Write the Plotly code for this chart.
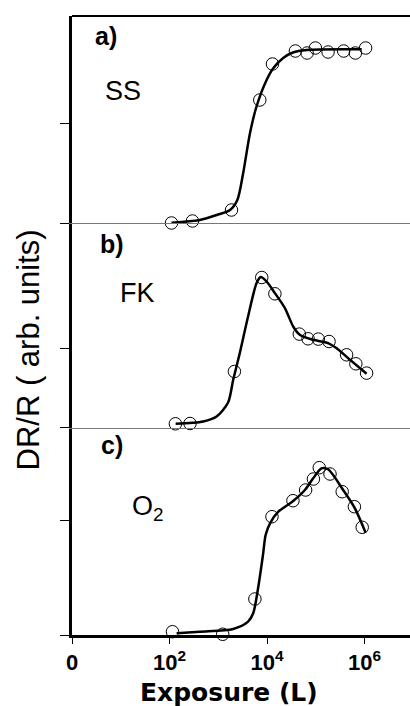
import plotly.graph_objects as go

# ---- data (x = log10 of exposure in Langmuir, y = DR/R in arbitrary units) ----
ss_x = [2.04, 2.47, 3.27, 3.85, 4.11, 4.58, 4.82, 4.99, 5.25, 5.57, 5.81, 6.02]
ss_y = [0.0, 2.0, 13.0, 123.0, 159.0, 172.0, 170.0, 175.0, 171.0, 172.0, 170.0, 175.0]
ss_fit_x = [2.04, 2.62, 2.97, 3.24, 3.39, 3.51, 3.65, 3.78, 3.99, 4.13, 4.33, 4.53, 4.81, 5.94]
ss_fit_y = [0.3, 3.0, 8.0, 13.0, 23.0, 50.0, 90.0, 116.0, 143.0, 155.0, 165.0, 170.5, 173.0, 173.7]

fk_x = [2.12, 2.42, 3.33, 3.89, 4.16, 4.66, 4.84, 5.05, 5.27, 5.63, 5.82, 6.04]
fk_y = [3.7, 4.0, 56.0, 150.0, 133.7, 93.4, 88.7, 88.4, 86.0, 72.7, 63.7, 54.4]
fk_fit_x = [2.125, 2.69, 2.965, 3.20, 3.305, 3.44, 3.61, 3.785, 3.87, 3.99, 4.16, 4.365,
            4.535, 4.67, 4.945, 5.25, 5.42, 5.66, 6.04]
fk_fit_y = [3.7, 6.0, 11.0, 25.0, 47.7, 74.4, 111.0, 144.4, 150.4, 146.0, 134.4, 119.4,
            101.0, 92.7, 87.7, 84.4, 79.4, 69.4, 53.7]

o2_x = [2.06, 3.09, 3.75, 4.10, 4.53, 4.79, 4.95, 5.07, 5.29, 5.54, 5.79, 5.95]
o2_y = [3.3, 0.7, 36.0, 118.3, 134.3, 145.0, 156.0, 167.3, 161.0, 143.3, 128.3, 107.7]
o2_fit_x = [2.145, 2.62, 3.305, 3.61, 3.715, 3.82, 3.92, 3.97, 4.06, 4.23, 4.535, 4.775,
            4.945, 5.115, 5.25, 5.56, 5.80, 6.02]
o2_fit_y = [1.7, 3.3, 6.0, 13.3, 21.7, 48.3, 81.7, 100.0, 111.7, 123.3, 134.0, 145.0,
            156.7, 166.7, 165.7, 145.0, 126.7, 102.3]

x_tickvals = [0, 2, 4, 6]
x_ticktext = ["<b>0</b>", "<b>10<sup>2</sup></b>", "<b>10<sup>4</sup></b>", "<b>10<sup>6</sup></b>"]
panel_labels = ["a)", "b)", "c)"]
panel_names = ["SS", "FK", "O<sub>2</sub>"]
y_ticks_a = [0, 100]
y_ticks_b = [0, 79]
y_ticks_c = [0, 115]

# ---- figure ----
fig = go.Figure()
panels = [
    ("x3", "y3", ss_x, ss_y, ss_fit_x, ss_fit_y),
    ("x2", "y2", fk_x, fk_y, fk_fit_x, fk_fit_y),
    ("x", "y", o2_x, o2_y, o2_fit_x, o2_fit_y),
]
for xa, ya, px, py, fx, fy in panels:
    fig.add_trace(go.Scatter(x=fx, y=fy, xaxis=xa, yaxis=ya, mode="lines",
                             line=dict(color="black", width=2.5, shape="spline", smoothing=0.8),
                             hoverinfo="skip", showlegend=False))
    fig.add_trace(go.Scatter(x=px, y=py, xaxis=xa, yaxis=ya, mode="markers",
                             marker=dict(symbol="circle", size=12.5, color="rgba(0,0,0,0)",
                                         line=dict(color="black", width=1)),
                             showlegend=False, cliponaxis=False))

XR = [0, 6.93]
h_c = 207.5 / 619
h_b = (635 - 223) / 619

common_y = dict(showgrid=False, zeroline=False, showline=True, linecolor="black", linewidth=2.5,
                ticks="outside", ticklen=9, tickwidth=1, tickcolor="black",
                showticklabels=False)

fig.update_layout(
    width=410, height=706,
    margin=dict(l=72, r=0, t=16, b=71),
    paper_bgcolor="white", plot_bgcolor="white",
    xaxis=dict(range=XR, domain=[0, 1], anchor="y", showgrid=False, zeroline=False,
               showline=True, linecolor="black", linewidth=3,
               ticks="outside", ticklen=6, tickwidth=1, tickcolor="black",
               tickvals=x_tickvals, ticktext=x_ticktext,
               tickfont=dict(family="Liberation Sans", size=22, color="black")),
    xaxis2=dict(range=XR, matches="x", anchor="y2", showgrid=False, zeroline=False,
                showline=True, linecolor="#777777", linewidth=1, showticklabels=False, ticks=""),
    xaxis3=dict(range=XR, matches="x", anchor="y3", showgrid=False, zeroline=False,
                showline=True, linecolor="#777777", linewidth=1, showticklabels=False, ticks=""),
    yaxis=dict(domain=[0, h_c], range=[0, 207.5], anchor="x", tickvals=y_ticks_c, **common_y),
    yaxis2=dict(domain=[h_c, h_b], range=[0, 204.5], anchor="x2", tickvals=y_ticks_b, **common_y),
    yaxis3=dict(domain=[h_b, 1], range=[0, 207], anchor="x3", tickvals=y_ticks_a, **common_y),
)

fig.add_shape(type="line", xref="x3 domain", yref="y3 domain", x0=0, x1=1, y0=1, y1=1,
              line=dict(color="black", width=2))

lab_font = dict(family="Liberation Sans", size=25, color="black")
name_font = dict(family="Liberation Sans", size=27, color="black")
lab_pos = [("x3", "y3", 0.70, 187), ("x2", "y2", 0.81, 184), ("x", "y", 0.83, 190)]
name_pos = [("x3", "y3", 1.05, 132), ("x2", "y2", 1.35, 135), ("x", "y", 1.55, 127)]
for (xa, ya, lx, ly), t in zip(lab_pos, panel_labels):
    fig.add_annotation(x=lx, y=ly, xref=xa, yref=ya, text="<b>" + t + "</b>", showarrow=False,
                       font=lab_font, xanchor="center", yanchor="middle")
for (xa, ya, lx, ly), t in zip(name_pos, panel_names):
    fig.add_annotation(x=lx, y=ly, xref=xa, yref=ya, text=t, showarrow=False,
                       font=name_font, xanchor="center", yanchor="middle")

fig.add_annotation(x=(28 - 72) / 338, y=(635 - 350.5) / 619, xref="paper", yref="paper",
                   text="DR/R ( arb. units)", textangle=-90, showarrow=False,
                   font=dict(family="Liberation Sans", size=31, color="black"),
                   xanchor="center", yanchor="middle")
fig.add_annotation(x=(229 - 72) / 338, y=(635 - 692) / 619, xref="paper", yref="paper",
                   text="<b>Exposure (L)</b>", showarrow=False,
                   font=dict(family="DejaVu Sans", size=25, color="black"),
                   xanchor="center", yanchor="middle")

fig.write_html("out.html")
